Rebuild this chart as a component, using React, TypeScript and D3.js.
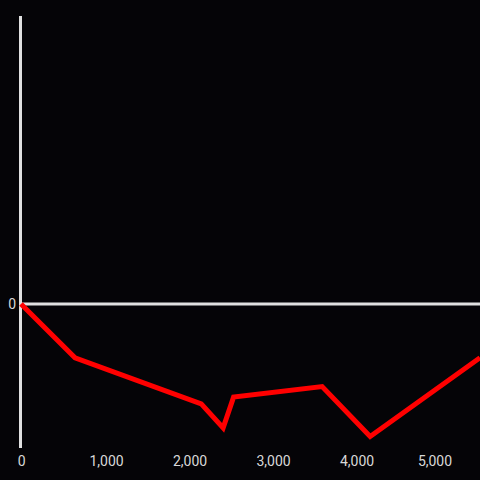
import React from "react";
import * as d3 from "d3";

const xValues = [0, 647, 2158, 2420, 2545, 3605, 4180, 5495];
const yValues = [0, -56, -104, -129, -97, -86, -138, -56];
const xTicks = [0, 1000, 2000, 3000, 4000, 5000];
const yTicks = [0];

const W = 480;
const H = 480;

export default function App() {
  const x = d3.scaleLinear().domain([0, 5495]).range([21, 480]);
  const y = d3.scaleLinear().domain([-150, 300]).range([448, 16]);
  const pts = xValues.map((v, i) => [x(v), y(yValues[i])] as [number, number]);
  const line = d3.line().curve(d3.curveLinear)(pts) || "";
  const fmt = d3.format(",");
  return (
    <svg
      width={W}
      height={H}
      style={{ position: "absolute", left: 0, top: 0, background: "#050407" }}
    >
      <rect x={0} y={0} width={W} height={H} fill="#050407" />
      <line x1={20.5} x2={20.5} y1={16} y2={448} stroke="#e0e0e0" strokeWidth={3} />
      <line x1={20.5} x2={480} y1={y(0)} y2={y(0)} stroke="#e0e0e0" strokeWidth={3} />
      {yTicks.map((t) => (
        <text
          key={"y" + t}
          x={16}
          y={y(t)}
          dy="0.35em"
          textAnchor="end"
          fill="#d8d8d8"
          fontFamily="Roboto, 'Open Sans', sans-serif"
          fontSize={14}
        >
          {fmt(t)}
        </text>
      ))}
      {xTicks.map((t, i) => {
        let cx = x(t) + 2;
        if (i === 0) cx = 21.7;
        if (i === xTicks.length - 1) cx = Math.min(cx, 435);
        return (
          <text
            key={"x" + t}
            x={cx}
            y={461}
            dy="0.35em"
            textAnchor="middle"
            fill="#d8d8d8"
            fontFamily="Roboto, 'Open Sans', sans-serif"
            fontSize={14}
          >
            {fmt(t)}
          </text>
        );
      })}
      <path d={line} fill="none" stroke="#ff0000" strokeWidth={5} strokeLinejoin="miter" />
    </svg>
  );
}
